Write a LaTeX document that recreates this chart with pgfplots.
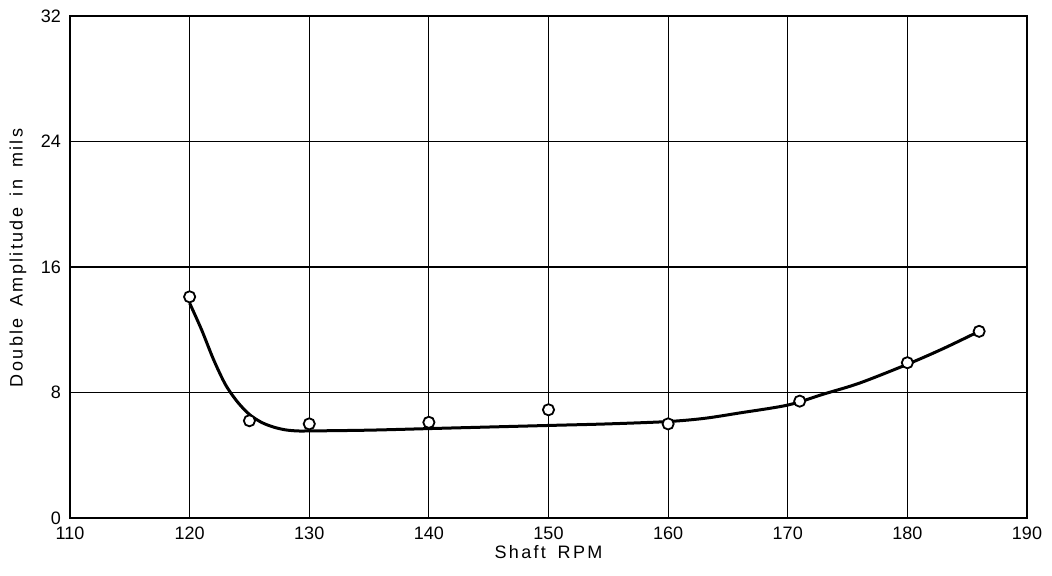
\documentclass[border=0pt]{standalone}
\usepackage{fontspec}
\setmainfont{Liberation Sans}
\newfontfamily\lblfont[LetterSpace=13,WordSpace=1.6]{Liberation Sans}
\usepackage{pgfplots}
\pgfplotsset{compat=1.18}
\begin{document}
\begin{tikzpicture}
\useasboundingbox (0,0) rectangle (526pt,287.5pt);
\begin{axis}[
  at={(35pt,28.5pt)}, anchor=south west,
  scale only axis, width=478.5pt, height=251pt,
  xmin=110, xmax=190, ymin=0, ymax=32,
  xtick={110,120,...,190}, ytick={0,8,16,24,32},
  grid=major, major grid style={black, line width=0.6pt},
  axis line style={black, line width=0.8pt},
  tick style={draw=none},
  /pgf/number format/assume math mode=true,
  ticklabel style={font=\fontsize{9}{10}\selectfont},
  xticklabel style={yshift=-1pt},
  yticklabel style={xshift=-1pt},
  xlabel={\lblfont Shaft RPM},
  ylabel={\lblfont Double Amplitude in mils},
  label style={font=\fontsize{9}{10}\selectfont},
  xlabel style={at={(axis description cs:0.5,-0.0677)}, anchor=center},
  ylabel style={at={(axis description cs:-0.0543,0.518)}, anchor=center, rotate=0},
  clip=false,
]
\addplot[black, line width=1.5pt, smooth, tension=0.5] coordinates {
  (120,13.7) (121,12.0) (122,10.1) (123,8.5) (124,7.4) (125,6.6) (126,6.1)
  (127,5.8) (128,5.62) (129,5.55) (130,5.55) (135,5.6) (140,5.7) (145,5.8)
  (150,5.9) (155,6.0) (160,6.15) (163,6.35) (166,6.7) (170,7.2) (173,7.9)
  (176,8.6) (180,9.8) (183,10.8) (186,11.9)
};
\addplot[only marks, mark=*, mark size=2.8pt,
  mark options={fill=white, draw=black, line width=0.9pt}] coordinates {
  (120,14.1) (125,6.2) (130,6.0) (140,6.1) (150,6.9) (160,6.0)
  (171,7.45) (180,9.9) (186,11.9)
};
\end{axis}
\node[anchor=north west, inner sep=0pt, font=\fontsize{9}{10}\selectfont\lblfont] at (80pt,-1.5pt) {Figure 101};
\end{tikzpicture}
\end{document}
